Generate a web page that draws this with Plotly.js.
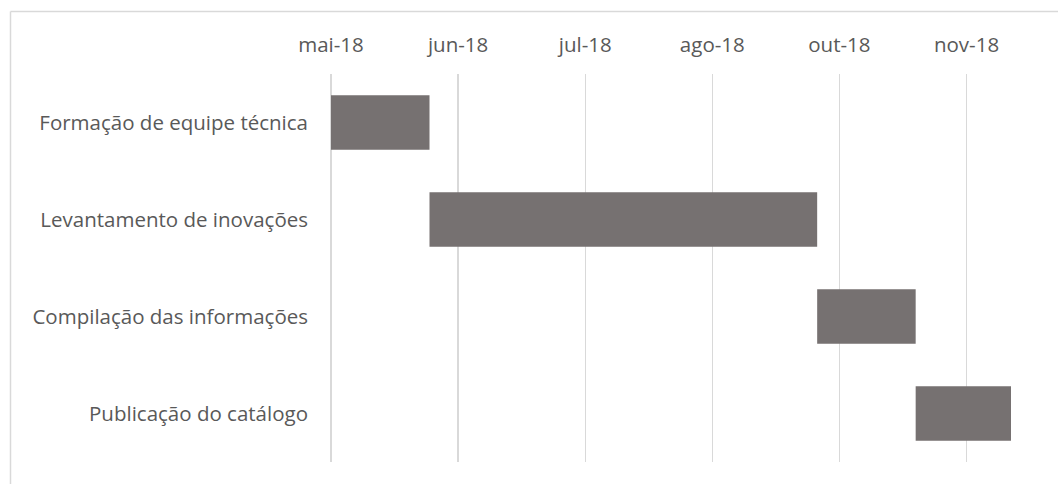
<!DOCTYPE html>
<html>
<head>
<meta charset="utf-8">
<script src="https://cdn.plot.ly/plotly-3.0.1.min.js"></script>
<style>html,body{margin:0;padding:0;background:#fff;overflow:hidden}</style>
</head>
<body>
<div id="chart" style="width:1058px;height:484px"></div>
<script>
const tasks = ["Formação de equipe técnica", "Levantamento de inovações", "Compilação das informações", "Publicação do catálogo"];
const startDates = ["2018-05-01", "2018-06-01", "2018-10-01", "2018-11-01"];
const endDates = ["2018-06-01", "2018-10-01", "2018-11-01", "2018-12-01"];
const axisStart = "2018-05-01";
const axisEnd = "2018-12-01";
const tickDates = ["2018-05-01", "2018-06-10", "2018-07-20", "2018-08-29", "2018-10-08", "2018-11-17"];
const tickLabels = ["mai-18", "jun-18", "jul-18", "ago-18", "out-18", "nov-18"];

const DAY = 86400000;
const dayOf = d => (Date.parse(d + "T00:00:00Z") - Date.parse(axisStart + "T00:00:00Z")) / DAY;
const base = startDates.map(dayOf);
const dur = startDates.map((s, i) => dayOf(endDates[i]) - dayOf(s));

const font = "'Open Sans', 'Liberation Sans', sans-serif";
const L = 331, R = 1011, T = 74, B = 462;
const px = v => (v - L) / (R - L);
const py = v => 1 - (v - T) / (B - T);

Plotly.newPlot("chart", [{
  type: "bar",
  orientation: "h",
  y: tasks,
  x: dur,
  base: base,
  width: 0.56,
  marker: {color: "#767171", line: {width: 0}},
  hoverinfo: "none"
}], {
  width: 1058, height: 484,
  margin: {l: L, r: 1058 - R, t: T, b: 484 - B, pad: 0},
  paper_bgcolor: "#ffffff",
  plot_bgcolor: "#ffffff",
  showlegend: false,
  font: {family: font, size: 20, color: "#595959"},
  xaxis: {
    side: "top",
    range: [0, dayOf(axisEnd)],
    tickvals: tickDates.map(dayOf),
    ticktext: tickLabels,
    ticks: "",
    ticklabelstandoff: 17,
    showgrid: true,
    gridcolor: "#d9d9d9",
    gridwidth: 1.3,
    zeroline: true,
    zerolinecolor: "#d9d9d9",
    zerolinewidth: 1.3,
    showline: false,
    tickfont: {family: font, size: 20.5, color: "#595959"}
  },
  yaxis: {
    autorange: "reversed",
    showgrid: false,
    zeroline: false,
    showline: false,
    ticks: "",
    ticklabelstandoff: 22,
    tickfont: {family: font, size: 20.5, color: "#595959"}
  },
  shapes: [
    {type: "line", xref: "paper", yref: "paper", x0: px(10.5), x1: px(1200), y0: py(11.5), y1: py(11.5), line: {color: "#d9d9d9", width: 1.5}},
    {type: "line", xref: "paper", yref: "paper", x0: px(10.5), x1: px(10.5), y0: py(11.5), y1: py(700), line: {color: "#d9d9d9", width: 1.5}}
  ]
}, {displayModeBar: false, staticPlot: true});
</script>
</body>
</html>
